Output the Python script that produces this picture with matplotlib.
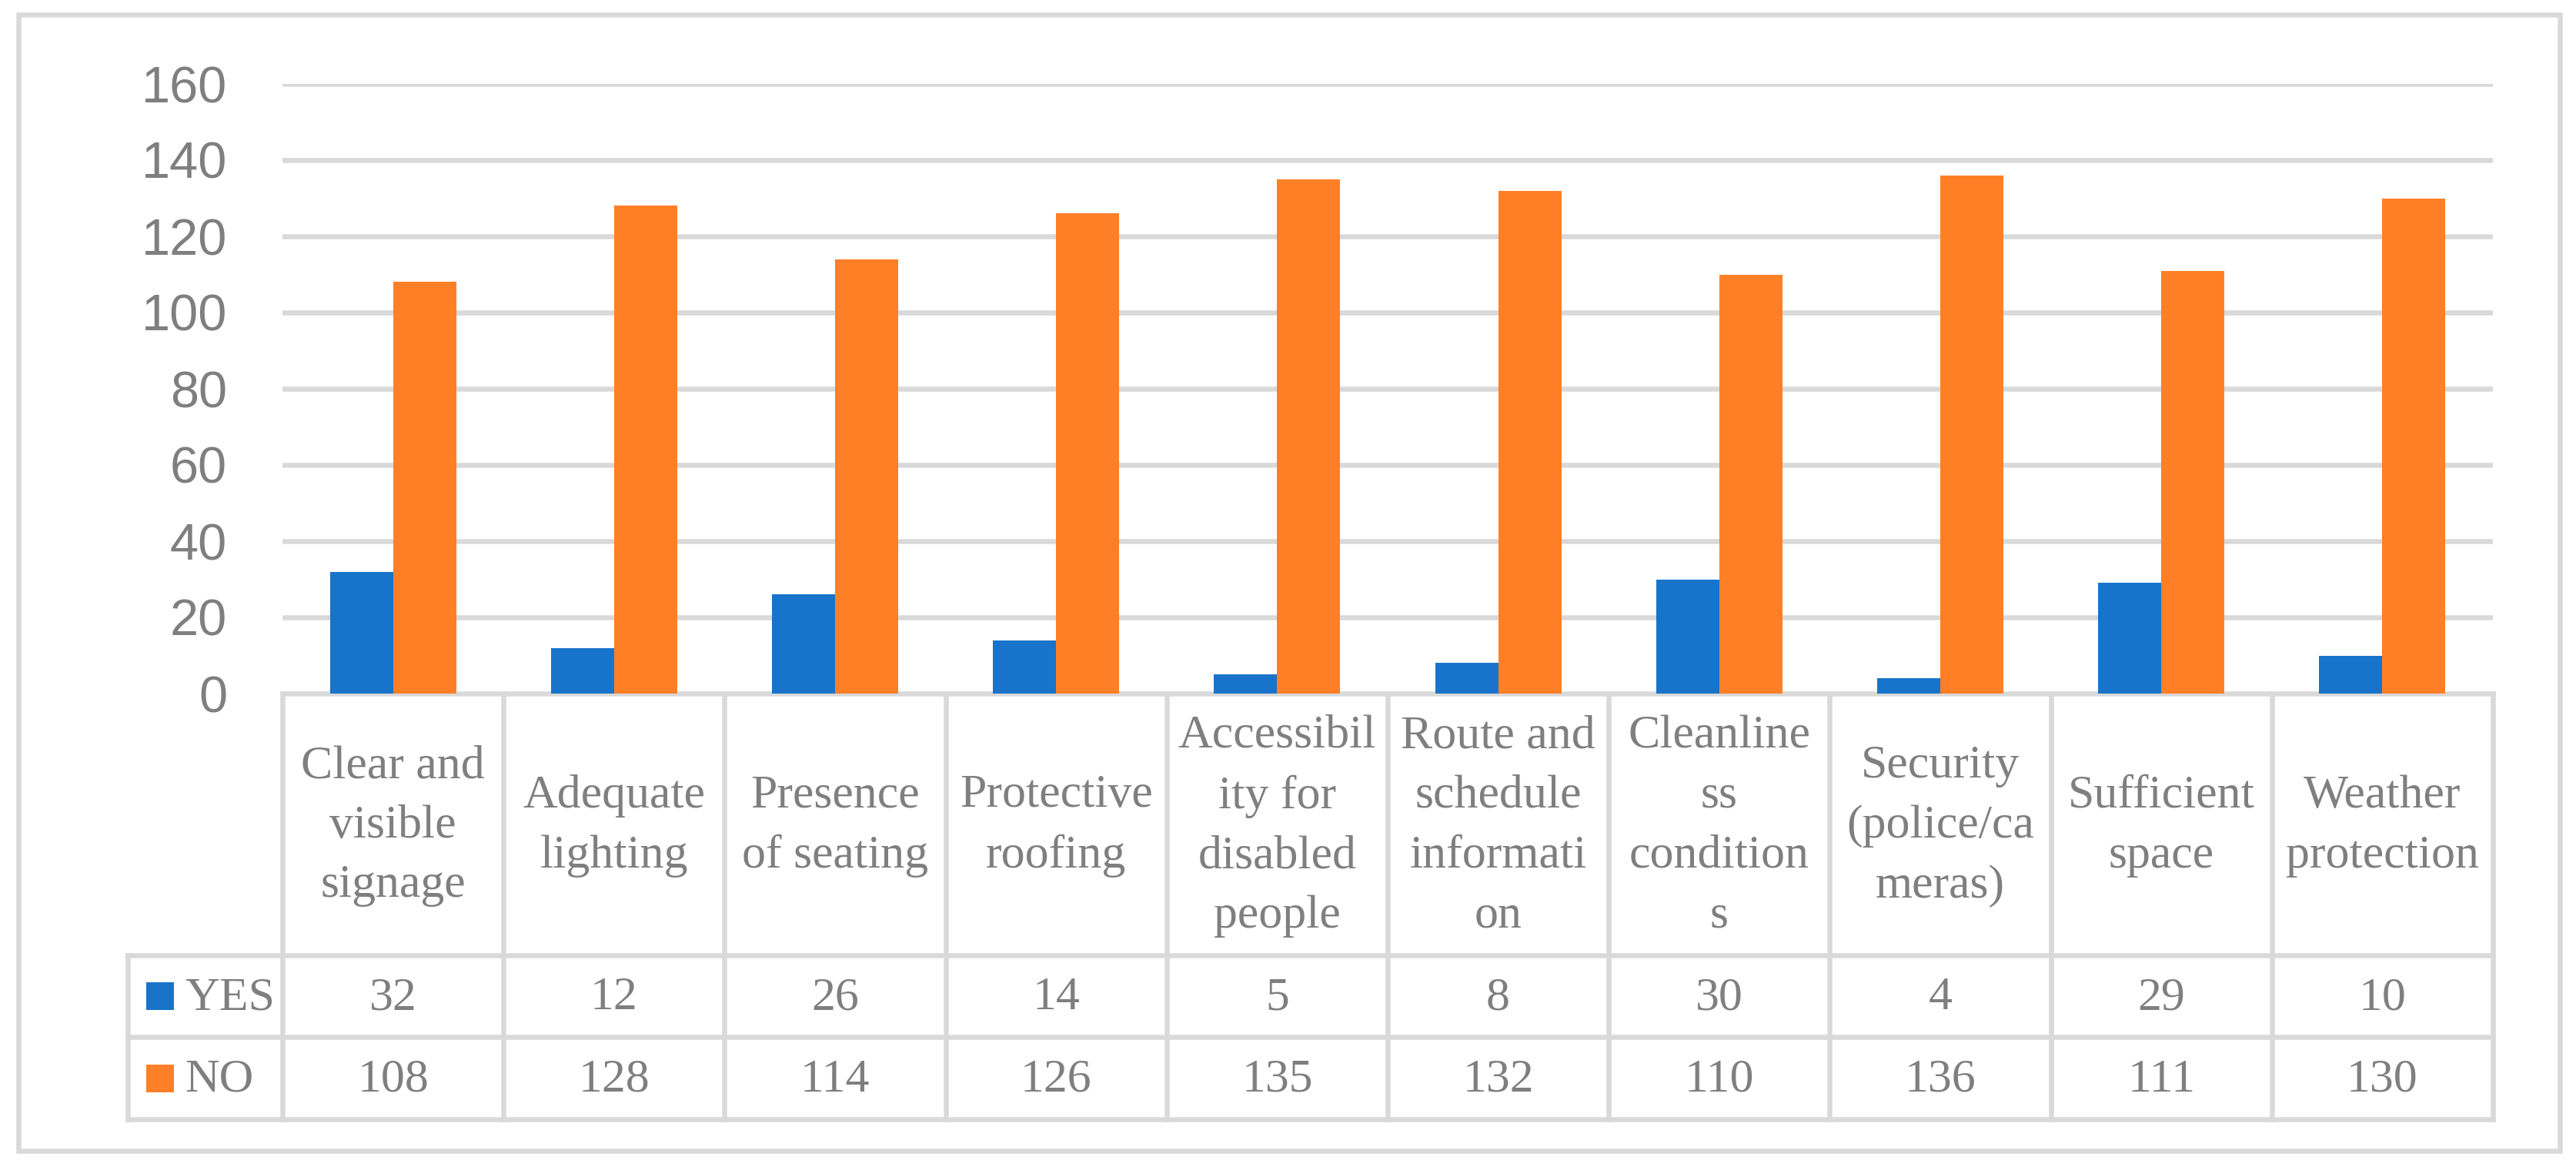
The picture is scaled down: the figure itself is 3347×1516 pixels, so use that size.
import numpy as np
from matplotlib import pyplot as plt
from matplotlib.patches import Rectangle

# data
categories = ['Clear and\nvisible\nsignage', 'Adequate\nlighting', 'Presence\nof seating',
              'Protective\nroofing', 'Accessibil\nity for\ndisabled\npeople',
              'Route and\nschedule\ninformati\non', 'Cleanline\nss\ncondition\ns',
              'Security\n(police/ca\nmeras)', 'Sufficient\nspace', 'Weather\nprotection']
yes_vals = [32, 12, 26, 14, 5, 8, 30, 4, 29, 10]
no_vals = [108, 128, 114, 126, 135, 132, 110, 136, 111, 130]
series_names = ['YES', 'NO']
yticks = [0, 20, 40, 60, 80, 100, 120, 140, 160]

BLUE = '#1874CA'
ORANGE = '#FF7F27'
GRAY_TXT = '#7F7F7F'
GRAY_LN = '#D9D9D9'
LW = 2.34

W, H = 3348, 1516
fig = plt.figure(figsize=(W / 200, H / 200), dpi=200)

# layout in pixels
x_left, x_right = 367, 3239
y_zero, y_top = 901, 109
row_lines = [1241, 1347, 1454]
x_legend = 166

# overlay axes in pixel coords for the table and frame
ov = fig.add_axes([0, 0, 1, 1], zorder=0)
ov.set_xlim(0, W)
ov.set_ylim(H, 0)
ov.axis('off')

ax = fig.add_axes([x_left / W, 1 - y_zero / H, (x_right - x_left) / W, (y_zero - y_top) / H], zorder=1)
ax.patch.set_alpha(0)

n = len(categories)
x = np.arange(n)
w = 2 / 7
for t in yticks[1:]:
    ax.axhline(t, color=GRAY_LN, lw=LW, zorder=0)
ax.bar(x - w / 2, yes_vals, w, color=BLUE, zorder=2)
ax.bar(x + w / 2, no_vals, w, color=ORANGE, zorder=2)
ax.set_xlim(-0.5, n - 0.5)
ax.set_ylim(0, 160)
ax.set_yticks(yticks)
ax.set_xticks([])
ax.tick_params(axis='y', length=0, pad=25.9, labelcolor=GRAY_TXT, labelsize=24)
for lab in ax.get_yticklabels():
    lab.set_fontfamily(['Liberation Sans', 'DejaVu Sans'])
for s in ax.spines.values():
    s.set_visible(False)

# outer frame
ov.add_patch(Rectangle((24, 19), 3326 - 24, 1495 - 19, fill=False, ec=GRAY_LN, lw=LW))

# table grid
colw = (x_right - x_left) / n
kw = dict(color=GRAY_LN, lw=LW, solid_capstyle='projecting')
ov.plot([x_left, x_right], [y_zero, y_zero], **kw)
for yy in row_lines:
    ov.plot([x_legend, x_right], [yy, yy], **kw)
ov.plot([x_legend, x_legend], [row_lines[0], row_lines[-1]], **kw)
for k in range(n + 1):
    xx = x_left + k * colw
    ov.plot([xx, xx], [y_zero, row_lines[-1]], **kw)

tkw = dict(fontfamily=['Liberation Serif', 'DejaVu Serif'], fontsize=22.3, color=GRAY_TXT)
for i, c in enumerate(categories):
    cx = x_left + (i + 0.5) * colw
    ov.text(cx, (y_zero + row_lines[0]) / 2 + 2, c, ha='center', va='center',
            multialignment='center', linespacing=1.52, **tkw)

rows = [yes_vals, no_vals]
colors = [BLUE, ORANGE]
for r in range(2):
    yc = (row_lines[r] + row_lines[r + 1]) / 2
    ov.add_patch(Rectangle((190, yc - 18), 36, 36, color=colors[r], lw=0))
    ov.text(240, yc + 17, series_names[r], ha='left', va='baseline', **tkw)
    for i, v in enumerate(rows[r]):
        cx = x_left + (i + 0.5) * colw
        ov.text(cx, yc + 17, str(v), ha='center', va='baseline', **tkw)

fig.savefig('out.png', dpi=200)
